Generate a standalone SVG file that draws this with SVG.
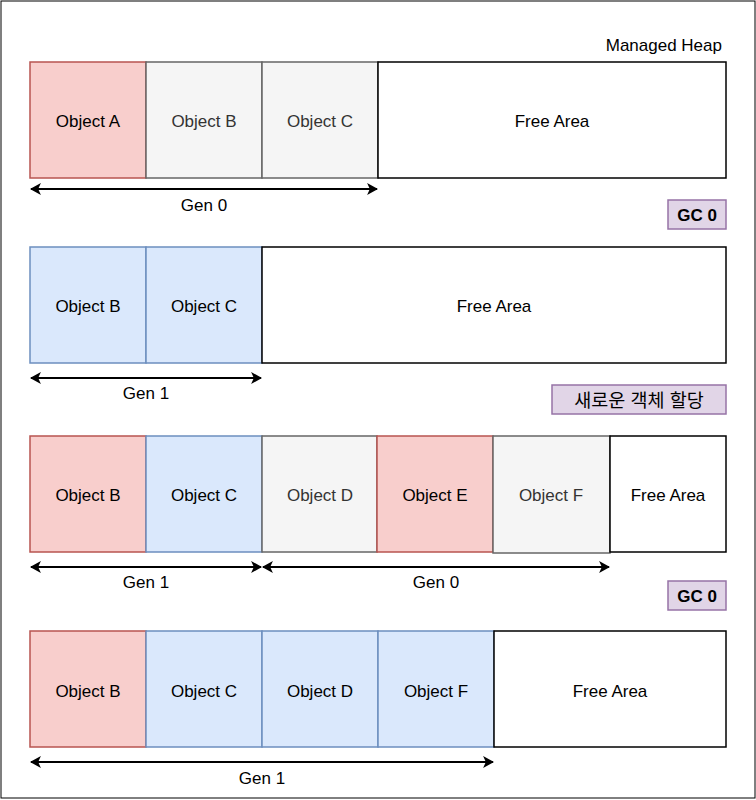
<svg xmlns="http://www.w3.org/2000/svg" width="756" height="800" viewBox="0 0 756 800">
<style>
text{font-family:"Liberation Sans",Arial,sans-serif;font-size:17px;text-anchor:middle;dominant-baseline:central}
.red{fill:#f8cecc;stroke:#b85450;stroke-width:1.5}
.gray{fill:#f5f5f5;stroke:#666666;stroke-width:1.5}
.blue{fill:#dae8fc;stroke:#6c8ebf;stroke-width:1.5}
.free{fill:#ffffff;stroke:#000000;stroke-width:1.5}
.lab{fill:#e1d5e7;stroke:#9673a6;stroke-width:1.5}
.gt{fill:#333333}
.b{font-weight:bold}
.arr{stroke:#000;stroke-width:1.8;fill:none;marker-start:url(#ah);marker-end:url(#ah)}
</style>
<defs>
<marker id="ah" viewBox="0 0 10 10" refX="9" refY="5" markerWidth="11" markerHeight="12" markerUnits="userSpaceOnUse" orient="auto-start-reverse" preserveAspectRatio="none">
<path d="M0,0 L10,5 L0,10 L2.5,5 Z" fill="#000"/>
</marker>
</defs>
<rect x="0" y="0" width="756" height="800" fill="#fff"/>
<rect x="1" y="1" width="754" height="797" fill="none" stroke="#000" stroke-width="1"/>
<text x="722" y="45" style="text-anchor:end">Managed Heap</text>

<g id="row1">
<g id="r1-a"><rect class="red" x="30" y="62" width="116" height="116"/><text x="88" y="121">Object A</text></g>
<g id="r1-b"><rect class="gray" x="146" y="62" width="116" height="116"/><text class="gt" x="204" y="121">Object B</text></g>
<g id="r1-c"><rect class="gray" x="262" y="62" width="116" height="116"/><text class="gt" x="320" y="121">Object C</text></g>
<g id="r1-free"><rect class="free" x="378" y="62" width="348" height="116"/><text x="552" y="121">Free Area</text></g>
</g>
<g id="gc1"><rect class="lab" x="668" y="200" width="58" height="29"/><text class="b" x="697" y="215">GC 0</text></g>

<g id="row2">
<g id="r2-b"><rect class="blue" x="30" y="247" width="116" height="116"/><text x="88" y="306">Object B</text></g>
<g id="r2-c"><rect class="blue" x="146" y="247" width="116" height="116"/><text x="204" y="306">Object C</text></g>
<g id="r2-free"><rect class="free" x="262" y="247" width="464" height="116"/><text x="494" y="306">Free Area</text></g>
</g>
<g id="alloc"><rect class="lab" x="552" y="385" width="174" height="29"/><text x="639" y="400" style="font-family:'Liberation Sans','Noto Sans CJK KR',sans-serif;font-size:18.5px">새로운 객체 할당</text></g>

<g id="row3">
<g id="r3-b"><rect class="red" x="30" y="436" width="116" height="116"/><text x="88" y="495">Object B</text></g>
<g id="r3-c"><rect class="blue" x="146" y="436" width="116" height="116"/><text x="204" y="495">Object C</text></g>
<g id="r3-d"><rect class="gray" x="262" y="436" width="115" height="116"/><text class="gt" x="320" y="495">Object D</text></g>
<g id="r3-e"><rect class="red" x="377" y="436" width="116" height="116"/><text x="435" y="495">Object E</text></g>
<g id="r3-f"><rect class="gray" x="493" y="436" width="117" height="117"/><text class="gt" x="551" y="495">Object F</text></g>
<g id="r3-free"><rect class="free" x="610" y="436" width="116" height="116"/><text x="668" y="495">Free Area</text></g>
</g>
<g id="gc2"><rect class="lab" x="668" y="581" width="58" height="29"/><text class="b" x="697" y="596">GC 0</text></g>

<g id="row4">
<g id="r4-b"><rect class="red" x="30" y="631" width="116" height="116"/><text x="88" y="691">Object B</text></g>
<g id="r4-c"><rect class="blue" x="146" y="631" width="116" height="116"/><text x="204" y="691">Object C</text></g>
<g id="r4-d"><rect class="blue" x="262" y="631" width="116" height="116"/><text x="320" y="691">Object D</text></g>
<g id="r4-f"><rect class="blue" x="378" y="631" width="116" height="116"/><text x="436" y="691">Object F</text></g>
<g id="r4-free"><rect class="free" x="494" y="631" width="232" height="116"/><text x="610" y="691">Free Area</text></g>
</g>

<g id="connectors">
<line class="arr" x1="31" y1="189" x2="377" y2="189"/>
<line class="arr" x1="31" y1="378" x2="261" y2="378"/>
<line class="arr" x1="31" y1="567" x2="261" y2="567"/>
<line class="arr" x1="263" y1="567" x2="609" y2="567"/>
<line class="arr" x1="31" y1="762" x2="493" y2="762"/>
</g>
<g id="labels">
<text x="204" y="205">Gen 0</text>
<text x="146" y="393">Gen 1</text>
<text x="146" y="582">Gen 1</text>
<text x="436" y="582">Gen 0</text>
<text x="262" y="778">Gen 1</text>
</g>
</svg>
